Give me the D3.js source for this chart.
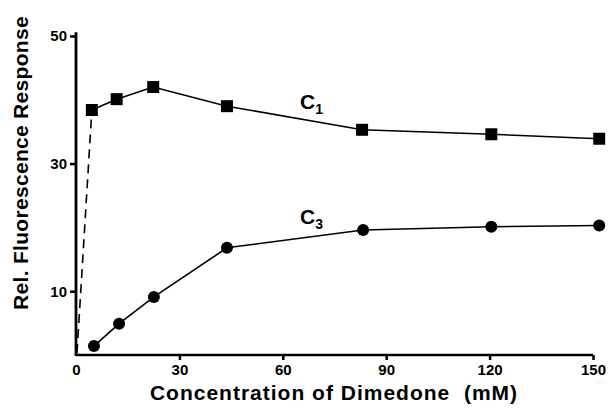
<!DOCTYPE html>
<html>
<head>
<meta charset="utf-8">
<script src="https://cdn.jsdelivr.net/npm/d3@7"></script>
<style>
  html, body { margin: 0; padding: 0; background: #fff; }
  svg { display: block; font-family: "Liberation Sans", Arial, Helvetica, sans-serif; }
</style>
</head>
<body>
<svg id="chart" width="608" height="411"></svg>
<script>
// Data (concentration in mM, relative fluorescence)
const c1X = [4.6, 11.8, 22.4, 43.8, 83.0, 120.5, 151.8];
const c1Y = [38.4, 40.1, 42.0, 39.0, 35.3, 34.6, 33.9];
const c3X = [5.2, 12.5, 22.6, 43.8, 83.3, 120.5, 151.8];
const c3Y = [1.4, 4.9, 9.1, 16.8, 19.6, 20.1, 20.3];
const xTicks = [0, 30, 60, 90, 120, 150];
const yTicks = [10, 30, 50];
const xTitle = "Concentration of Dimedone\u00a0\u00a0(mM)";
const yTitle = "Rel. Fluorescence Response";

const svg = d3.select("#chart");
const x = d3.scaleLinear().domain([0, 150]).range([76, 593]);
const y = d3.scaleLinear().domain([0, 50]).range([355, 36]);

// Axes
const gx = svg.append("g").attr("transform", `translate(0,${y(0)})`)
  .call(d3.axisBottom(x).tickValues(xTicks).tickSize(5).tickSizeOuter(0).tickPadding(4));
const gy = svg.append("g").attr("transform", `translate(${x(0)},0)`)
  .call(d3.axisLeft(y).tickValues(yTicks).tickSize(6).tickSizeOuter(0).tickPadding(3));
[gx, gy].forEach(g => {
  g.select(".domain").remove();
  g.selectAll(".tick line").attr("stroke", "#000").attr("stroke-width", 2.5);
  g.selectAll(".tick text").attr("fill", "#000").style("font-size", "15px").style("font-weight", "bold");
});
gx.selectAll(".tick").filter(d => d === 0).select("line").remove();

svg.append("line").attr("x1", x(0)).attr("x2", x(150)).attr("y1", y(0)).attr("y2", y(0))
  .attr("stroke", "#000").attr("stroke-width", 2.5);
svg.append("line").attr("x1", x(0)).attr("x2", x(0)).attr("y1", y(0) + 1).attr("y2", y(50.6))
  .attr("stroke", "#000").attr("stroke-width", 2.8);

// Titles
svg.append("text").attr("x", 334).attr("y", 400)
  .attr("text-anchor", "middle").style("font-size", "21px").style("font-weight", "bold")
  .style("letter-spacing", "1px").text(xTitle);
svg.append("text").attr("transform", `translate(28,163) rotate(-90)`)
  .attr("text-anchor", "middle").style("font-size", "21px").style("font-weight", "bold")
  .style("letter-spacing", "0.3px").text(yTitle);

// Dashed initial segment from origin to first C1 point
svg.append("line").attr("x1", x(0) + 1).attr("y1", y(0) - 2).attr("x2", x(c1X[0])).attr("y2", y(c1Y[0]))
  .attr("stroke", "#000").attr("stroke-width", 1.6).attr("stroke-dasharray", "9,6");

const line = d3.line().x(d => x(d[0])).y(d => y(d[1]));
const c1 = c1X.map((v, i) => [v, c1Y[i]]);
const c3 = c3X.map((v, i) => [v, c3Y[i]]);

svg.append("path").attr("d", line(c1)).attr("fill", "none").attr("stroke", "#000").attr("stroke-width", 1.6);
svg.append("path").attr("d", line(c3)).attr("fill", "none").attr("stroke", "#000").attr("stroke-width", 1.6);

svg.selectAll("rect.c1").data(c1).enter().append("rect")
  .attr("x", d => x(d[0]) - 6).attr("y", d => y(d[1]) - 6)
  .attr("width", 12).attr("height", 12).attr("fill", "#000");
svg.selectAll("circle.c3").data(c3).enter().append("circle")
  .attr("cx", d => x(d[0])).attr("cy", d => y(d[1])).attr("r", 6).attr("fill", "#000");

// Series labels
function label(tx, ty, sub) {
  const t = svg.append("text").attr("x", tx).attr("y", ty)
    .style("font-size", "21px").style("font-weight", "bold");
  t.append("tspan").text("C");
  t.append("tspan").attr("dy", 5).style("font-size", "14px").text(sub);
}
label(300, 109, "1");
label(300, 224, "3");
</script>
</body>
</html>
